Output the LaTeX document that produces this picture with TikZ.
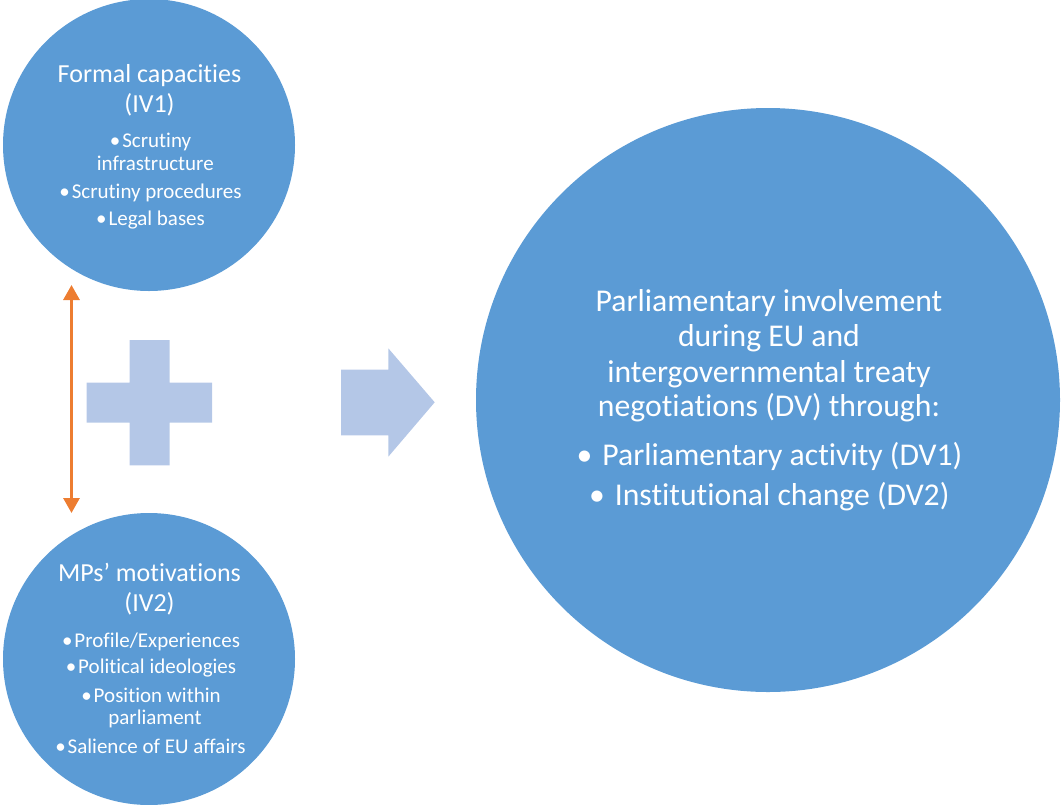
\documentclass[tikz,border=0pt]{standalone}
\usepackage{fontspec}
\setmainfont{Carlito}[Ligatures={NoCommon}]
\usetikzlibrary{arrows.meta}
\definecolor{cblue}{HTML}{5B9BD5}
\definecolor{lblue}{HTML}{B4C7E7}
\definecolor{corange}{HTML}{ED7D31}
\newcommand{\bul}[1]{\textbullet\hspace{#1}}
\begin{document}
\begin{tikzpicture}[x=1pt,y=-1pt,
  circ/.style={circle, fill=cblue, inner sep=0pt, minimum size=#1},
  titletext/.style={text=white, anchor=base, font=\fontsize{26}{30}\selectfont, inner sep=0pt},
  itemtext/.style={text=white, anchor=base, font=\fontsize{21}{24}\selectfont, inner sep=0pt},
  maintext/.style={text=white, anchor=base, font=\fontsize{31.7}{36}\selectfont, inner sep=0pt},
  shapefill/.style={fill=lblue},
  link/.style={draw=corange, line width=3pt, {Triangle[width=16pt,length=15pt]}-{Triangle[width=16pt,length=15pt]}}
]
\useasboundingbox (0,0) rectangle (1063,804);

% circles
\node[circ=292pt] (iv1) at (149,145) {};
\node[circ=292pt] (iv2) at (149,659) {};
\node[circ=584pt] (dv) at (768,400) {};

% top circle text
\node[titletext] (t1a) at (149.5,82) {Formal capacities};
\node[titletext] (t1b) at (149.5,112) {(IV1)};
\node[itemtext] (t1c) at (150.5,147.7) {\bul{2pt}Scrutiny};
\node[itemtext] (t1d) at (155.3,170.7) {infrastructure};
\node[itemtext] (t1e) at (150.5,198) {\bul{2pt}Scrutiny procedures};
\node[itemtext] (t1f) at (150.5,225.5) {\bul{2pt}Legal bases};

% bottom circle text
\node[titletext] (t2a) at (149.5,581.7) {MPs’ motivations};
\node[titletext] (t2b) at (149.5,611.7) {(IV2)};
\node[itemtext] (t2c) at (151,647.7) {\bul{2pt}Profile/Experiences};
\node[itemtext] (t2d) at (151,673.5) {\bul{2pt}Political ideologies};
\node[itemtext] (t2e) at (151,702) {\bul{2pt}Position within};
\node[itemtext] (t2f) at (155,724.5) {parliament};
\node[itemtext] (t2g) at (150.4,753) {\bul{2pt}Salience of EU affairs};

% big circle text
\node[maintext] (m1) at (769,311) {Parliamentary involvement};
\node[maintext] (m2) at (769,346) {during EU and};
\node[maintext] (m3) at (769,382) {intergovernmental treaty};
\node[maintext] (m4) at (769,416) {negotiations (DV) through:};
\node[maintext] (m5) at (769.5,465.5) {\bul{10pt}Parliamentary activity (DV1)};
\node[maintext] (m6) at (769.3,505) {\bul{10pt}Institutional change (DV2)};

% plus sign
\fill[shapefill] (129.5,340) -- (169.7,340) -- (169.7,382.7) -- (212,382.7) -- (212,422.7)
  -- (169.7,422.7) -- (169.7,465.3) -- (129.5,465.3) -- (129.5,422.7) -- (86.7,422.7)
  -- (86.7,382.7) -- (129.5,382.7) -- cycle;

% block arrow
\fill[shapefill] (341,369.7) -- (388.3,369.7) -- (388.3,348.3) -- (434.7,402.3)
  -- (388.3,456.7) -- (388.3,435.3) -- (341,435.3) -- cycle;

% double arrow between the two circles
\coordinate (linktop) at (71.5,285);
\coordinate (linkbot) at (71.5,513);
\draw[link] (linktop) -- (linkbot);
\end{tikzpicture}
\end{document}
